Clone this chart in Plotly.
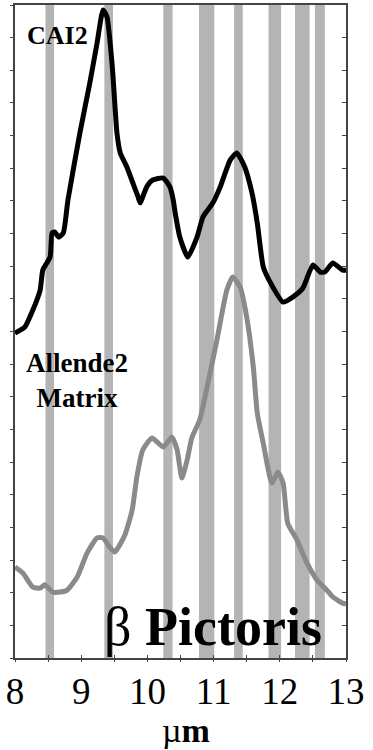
import plotly.graph_objects as go

# ---- data ----
cai2_x = [8.00, 8.15, 8.27, 8.38, 8.42, 8.53, 8.56, 8.60, 8.66, 8.73, 8.80, 8.98, 9.13, 9.24, 9.33, 9.39,
          9.47, 9.54, 9.59, 9.69, 9.78, 9.86, 9.89, 9.99, 10.08, 10.24, 10.34, 10.39, 10.42, 10.49, 10.61,
          10.75, 10.84, 10.99, 11.10, 11.25, 11.35, 11.47, 11.58, 11.66, 11.75, 11.86, 12.05, 12.20, 12.35,
          12.50, 12.61, 12.68, 12.80, 12.95, 13.00]
cai2_y = [9.95, 10.14, 10.66, 11.27, 11.88, 12.28, 13.02, 13.05, 12.89, 13.02, 14.03, 16.08, 17.61, 18.84, 19.85, 19.63,
          18.10, 16.08, 15.47, 15.04, 14.55, 14.12, 13.94, 14.43, 14.64, 14.70, 14.43, 14.03, 13.63, 12.89, 12.28,
          12.89, 13.51, 13.94, 14.43, 15.25, 15.47, 15.04, 14.24, 13.32, 11.98, 11.49, 10.90, 11.06, 11.33,
          12.04, 11.82, 11.82, 12.10, 11.88, 11.88]

allende_x = [8.00, 8.12, 8.27, 8.38, 8.45, 8.57, 8.68, 8.79, 8.94, 9.09, 9.24, 9.33, 9.44, 9.51, 9.66, 9.77,
             9.84, 9.93, 10.07, 10.24, 10.37, 10.45, 10.52, 10.60, 10.67, 10.79, 10.87, 11.05, 11.20, 11.29,
             11.40, 11.50, 11.60, 11.66, 11.75, 11.88, 11.97, 12.05, 12.12, 12.26, 12.41, 12.56, 12.71, 12.80,
             12.95, 13.00]
allende_y = [2.79, 2.60, 2.17, 2.14, 2.24, 2.02, 2.02, 2.08, 2.48, 3.22, 3.68, 3.68, 3.37, 3.25, 3.77, 4.53,
             5.54, 6.37, 6.74, 6.46, 6.77, 6.37, 5.51, 6.06, 6.74, 7.29, 7.99, 9.74, 11.27, 11.67,
             11.36, 10.44, 8.91, 7.50, 6.58, 5.36, 5.70, 5.36, 4.13, 3.61, 2.91, 2.39, 2.08, 1.87,
             1.68, 1.65]

band_start = [8.46, 9.35, 10.24, 10.78, 11.31, 11.83, 12.23, 12.53]
band_end = [8.59, 9.48, 10.38, 11.01, 11.44, 12.02, 12.45, 12.68]

x_tickvals = [8, 8.5, 9, 9.5, 10, 10.5, 11, 11.5, 12, 12.5, 13]
x_ticktext = ["8", "", "9", "", "10", "", "11", "", "12", "", "13"]
y_tickvals = list(range(0, 21))

SERIF = "Liberation Serif"

fig = go.Figure()

for x0, x1 in zip(band_start, band_end):
    fig.add_shape(type="rect", xref="x", yref="paper", x0=x0, x1=x1, y0=0, y1=1,
                  fillcolor="#b4b4b4", line=dict(width=0), layer="below")

fig.add_trace(go.Scatter(x=cai2_x, y=cai2_y, mode="lines",
                         line=dict(color="#000000", width=5, shape="spline", smoothing=0.5),
                         hoverinfo="skip", showlegend=False))
fig.add_trace(go.Scatter(x=allende_x, y=allende_y, mode="lines",
                         line=dict(color="#8a8a8a", width=5, shape="spline", smoothing=0.5),
                         hoverinfo="skip", showlegend=False))
fig.add_trace(go.Scatter(x=[None], y=[None], xaxis="x2", yaxis="y2", showlegend=False, hoverinfo="skip"))

axis_color = "#444444"
fig.update_layout(
    width=373, height=750,
    margin=dict(l=15, r=27, t=5, b=92, autoexpand=False),
    paper_bgcolor="white", plot_bgcolor="white",
    font=dict(family=SERIF, color="black"),
    xaxis=dict(range=[8, 13], tickmode="array", tickvals=x_tickvals, ticktext=x_ticktext,
               ticks="inside", ticklen=3, tickwidth=1, tickcolor=axis_color,
               showline=True, linecolor=axis_color, linewidth=1.5, mirror=True,
               showgrid=False, zeroline=False, automargin=False,
               tickfont=dict(family=SERIF, size=37, color="black")),
    xaxis2=dict(range=[8, 13], overlaying="x", anchor="y", side="bottom", tickmode="array",
                tickvals=x_tickvals, showticklabels=False, ticks="outside", ticklen=3, tickwidth=1,
                tickcolor=axis_color, showline=False, showgrid=False, zeroline=False),
    yaxis=dict(range=[0, 20], tickmode="array", tickvals=y_tickvals, showticklabels=False,
               ticks="outside", ticklen=3, tickwidth=1, tickcolor=axis_color,
               showline=True, linecolor=axis_color, linewidth=1.5, mirror=True,
               showgrid=False, zeroline=False, automargin=False),
    yaxis2=dict(range=[0, 20], overlaying="y", side="right", anchor="x", tickmode="array", tickvals=y_tickvals,
                showticklabels=False, ticks="inside", ticklen=4, tickwidth=1, tickcolor=axis_color,
                showline=False, showgrid=False, zeroline=False),
)

fig.add_annotation(text="<b>CAI2</b>", xref="paper", yref="paper", x=(25 - 15) / 331, y=1 - (19 - 5) / 653,
                   xanchor="left", yanchor="top", showarrow=False,
                   font=dict(family=SERIF, size=26, color="black"))
fig.add_annotation(text="<b>Allende2<br>Matrix</b>", xref="paper", yref="paper", x=(77 - 15) / 331, y=1 - (380 - 5) / 653,
                   xanchor="center", yanchor="middle", showarrow=False, align="center",
                   font=dict(family=SERIF, size=27, color="black"))
fig.add_annotation(text="\u03b2 <b>Pictoris</b>", xref="paper", yref="paper", x=(102 - 15) / 331, y=1 - (627 - 5) / 653,
                   xanchor="left", yanchor="middle", showarrow=False,
                   font=dict(family=SERIF, size=54, color="black"))
fig.add_annotation(text="\u00b5<b>m</b>", xref="paper", yref="paper", x=(186 - 15) / 331, y=1 - (730 - 5) / 653,
                   xanchor="center", yanchor="middle", showarrow=False,
                   font=dict(family=SERIF, size=34, color="black"))

fig.write_html("out.html", config={"displayModeBar": False},
               post_script="document.body.style.margin='0';document.body.style.padding='0';"
                           "document.body.style.overflow='hidden';")
